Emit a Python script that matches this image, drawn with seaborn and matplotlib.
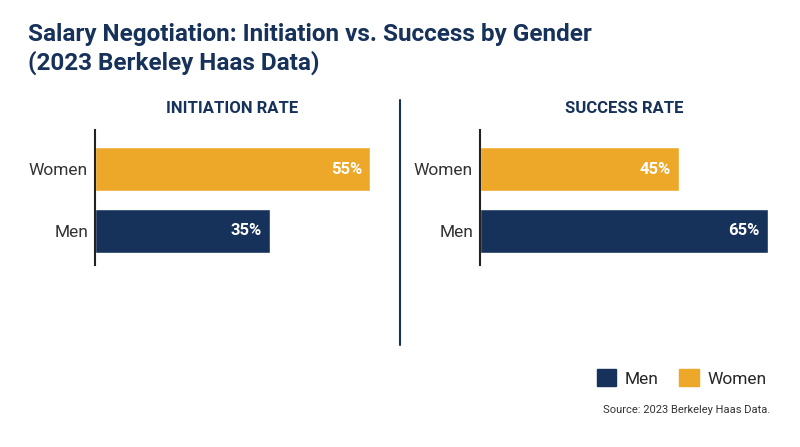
import matplotlib
matplotlib.use("Agg")
import matplotlib.pyplot as plt
import seaborn as sns
import pandas as pd
from matplotlib.patches import Patch

genders = ["Women", "Men"]
initiation = [55, 35]
success = [45, 65]
panel_titles = ["INITIATION RATE", "SUCCESS RATE"]

NAVY = "#17325a"
GOLD = "#eda82a"
palette = {"Women": GOLD, "Men": NAVY}

sns.set_theme(style="white")
plt.rcParams['font.family'] = ['Roboto', 'DejaVu Sans']

fig = plt.figure(figsize=(8, 4.47), dpi=100)
rects = [[95/800, 1-265/447, 275/800, 135/447], [480/800, 1-265/447, 288/800, 135/447]]
for rect, vals, title in zip(rects, [initiation, success], panel_titles):
    ax = fig.add_axes(rect)
    df = pd.DataFrame({"g": genders, "v": vals})
    sns.barplot(data=df, x="v", y="g", hue="g", palette=palette, order=genders,
                orient="h", width=0.71, legend=False, ax=ax, saturation=1)
    ax.set_xlim(0, max(vals))
    ax.set_ylim(1.55, -0.63)
    for i, v in enumerate(vals):
        ax.text(v - 1.6 * max(vals) / 55, i, f"{v}%", ha="right", va="center",
                color="white", fontsize=12, fontweight="bold")
    for s in ["top", "right", "bottom"]:
        ax.spines[s].set_visible(False)
    ax.spines["left"].set_color("#222222")
    ax.spines["left"].set_linewidth(1.5)
    ax.set_xticks([])
    ax.set_xlabel("")
    ax.set_ylabel("")
    ax.tick_params(axis="y", length=0, labelsize=12.5, colors="#333333", pad=5)
    ax.set_title(title, fontsize=12, fontweight="bold", color=NAVY, pad=12)

fig.add_artist(plt.Line2D([400/800, 400/800], [1-100/447, 1-345/447], color=NAVY, lw=1.5))

fig.text(28/800, 1-35/447, "Salary Negotiation: Initiation vs. Success by Gender",
         fontsize=17.5, fontweight="bold", color=NAVY, va="center")
fig.text(28/800, 1-63/447, "(2023 Berkeley Haas Data)",
         fontsize=17.5, fontweight="bold", color=NAVY, va="center")

handles = [Patch(color=NAVY, label="Men"), Patch(color=GOLD, label="Women")]
fig.legend(handles=handles, loc="center right", bbox_to_anchor=(782/800, 1-378/447),
           ncol=2, frameon=False, fontsize=12.5, handlelength=1.1, handleheight=1.1,
           columnspacing=1.2, handletextpad=0.5)
fig.text(770/800, 1-410/447, "Source: 2023 Berkeley Haas Data.", ha="right",
         va="center", fontsize=8, color="#333333")

fig.savefig("out.png", dpi=100)
